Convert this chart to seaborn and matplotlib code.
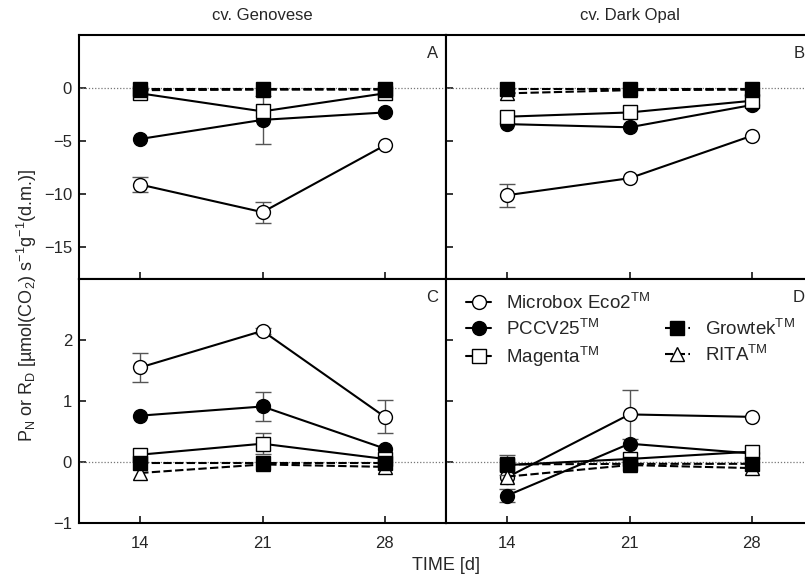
import numpy as np
import matplotlib
matplotlib.use('Agg')
import matplotlib.pyplot as plt
from matplotlib.lines import Line2D
import seaborn as sns

days = [14, 21, 28]

# A - cv. Genovese, P_N
microbox_A = [-9.1, -11.7, -5.4]
microbox_A_err = [0.7, 1.0, 0]
pccv_A = [-4.8, -3.0, -2.3]
pccv_A_err = [0, 2.25, 0]
magenta_A = [-0.5, -2.2, -0.5]
rita_A = [-0.2, -0.15, -0.15]
growtek_A = [-0.1, -0.1, -0.1]

# B - cv. Dark Opal, P_N
microbox_B = [-10.1, -8.5, -4.5]
microbox_B_err = [1.1, 0, 0]
pccv_B = [-3.4, -3.7, -1.6]
magenta_B = [-2.7, -2.3, -1.2]
rita_B = [-0.5, -0.2, -0.15]
growtek_B = [-0.1, -0.1, -0.1]

# C - cv. Genovese, R_D
microbox_C = [1.55, 2.15, 0.74]
microbox_C_err = [0.24, 0.05, 0.27]
pccv_C = [0.76, 0.91, 0.22]
pccv_C_err = [0, 0.24, 0]
magenta_C = [0.12, 0.30, 0.05]
magenta_C_err = [0, 0.17, 0]
rita_C = [-0.18, -0.04, -0.08]
growtek_C = [-0.02, -0.02, -0.02]

# D - cv. Dark Opal, R_D
microbox_D = [-0.25, 0.78, 0.74]
microbox_D_err = [0, 0.4, 0]
pccv_D = [-0.55, 0.30, 0.14]
pccv_D_err = [0.1, 0, 0]
magenta_D = [-0.05, 0.05, 0.17]
magenta_D_err = [0.17, 0, 0]
rita_D = [-0.24, -0.05, -0.1]
growtek_D = [-0.04, -0.03, -0.03]

titles = ['cv. Genovese', 'cv. Dark Opal']
letters = ['A', 'B', 'C', 'D']

sns.set_style('ticks')
plt.rcParams['font.family'] = ['Liberation Sans', 'DejaVu Sans']
plt.rcParams['mathtext.fontset'] = 'custom'
plt.rcParams['mathtext.rm'] = 'Liberation Sans'
plt.rcParams['mathtext.it'] = 'Liberation Sans:italic'
plt.rcParams['mathtext.bf'] = 'Liberation Sans:bold'

dash = (0, (4, 1.6))
styles = {
    'Microbox Eco2': dict(marker='o', mfc='white', ls='-'),
    'PCCV25': dict(marker='o', mfc='black', ls='-'),
    'Magenta': dict(marker='s', mfc='white', ls='-'),
    'RITA': dict(marker='^', mfc='white', ls=dash),
    'Growtek': dict(marker='s', mfc='black', ls=dash),
}


def draw(ax, vals, errs):
    ax.axhline(0, color='#777777', lw=0.9, ls=(0, (1, 1.5)), zorder=1)
    handles = {}
    for i, name in enumerate(['Microbox Eco2', 'PCCV25', 'Magenta', 'RITA', 'Growtek']):
        y = np.array(vals[name])
        if name in errs:
            e = np.array(errs[name])
            m = e > 0
            ax.errorbar(np.array(days)[m], y[m], yerr=e[m], fmt='none', ecolor='#555555',
                        elinewidth=1, capsize=5.5, capthick=1, zorder=2 + 2 * i)
        st = styles[name]
        sns.lineplot(x=days, y=y, ax=ax, color='black', lw=1.5, errorbar=None,
                     marker=st['marker'], markersize=10, mfc=st['mfc'], mec='black', mew=1,
                     linestyle=st['ls'], zorder=3 + 2 * i)
        handles[name] = ax.lines[-1]
    return handles


fig = plt.figure(figsize=(8.05, 5.77), dpi=100)
W, H = 805, 577
axA = fig.add_axes([79 / W, 1 - 279 / H, 367 / W, 244 / H])
axB = fig.add_axes([446 / W, 1 - 279 / H, 367 / W, 244 / H])
axC = fig.add_axes([79 / W, 1 - 523 / H, 367 / W, 244 / H])
axD = fig.add_axes([446 / W, 1 - 523 / H, 367 / W, 244 / H])

draw(axA, {'Microbox Eco2': microbox_A, 'PCCV25': pccv_A, 'Magenta': magenta_A,
           'RITA': rita_A, 'Growtek': growtek_A},
     {'Microbox Eco2': microbox_A_err, 'PCCV25': pccv_A_err})
draw(axB, {'Microbox Eco2': microbox_B, 'PCCV25': pccv_B, 'Magenta': magenta_B,
           'RITA': rita_B, 'Growtek': growtek_B},
     {'Microbox Eco2': microbox_B_err})
draw(axC, {'Microbox Eco2': microbox_C, 'PCCV25': pccv_C, 'Magenta': magenta_C,
           'RITA': rita_C, 'Growtek': growtek_C},
     {'Microbox Eco2': microbox_C_err, 'PCCV25': pccv_C_err, 'Magenta': magenta_C_err})
hd = draw(axD, {'Microbox Eco2': microbox_D, 'PCCV25': pccv_D, 'Magenta': magenta_D,
                'RITA': rita_D, 'Growtek': growtek_D},
          {'Microbox Eco2': microbox_D_err, 'PCCV25': pccv_D_err, 'Magenta': magenta_D_err})

for i, ax in enumerate([axA, axB, axC, axD]):
    ax.set_xlim(10.5, 31.5)
    ax.set_xticks(days)
    if i < 2:
        ax.set_ylim(-18, 5)
        ax.set_yticks([-15, -10, -5, 0])
        ax.set_title(titles[i], fontsize=12, pad=11)
    else:
        ax.set_ylim(-1, 3)
        ax.set_yticks([-1, 0, 1, 2])
    for s in ax.spines.values():
        s.set_linewidth(1.5)
        s.set_color('black')
    ax.tick_params(direction='in', length=5, width=1.3, labelsize=12, pad=5,
                   labelbottom=(i >= 2), labelleft=(i % 2 == 0),
                   top=False, right=False)
    ax.tick_params(axis='x', pad=9)
    ax.set_xlabel('')
    ax.set_ylabel('')
    ax.annotate(letters[i], xy=(1, 1), xycoords='axes fraction', xytext=(-6, -8),
                textcoords='offset points', ha='right', va='top', fontsize=12)

blank = Line2D([], [], linestyle='none')
leg_handles = [hd['Microbox Eco2'], hd['PCCV25'], hd['Magenta'], blank, hd['Growtek'], hd['RITA']]
leg_labels = [r'Microbox Eco2$^{\mathrm{TM}}$', r'PCCV25$^{\mathrm{TM}}$', r'Magenta$^{\mathrm{TM}}$',
              '', r'Growtek$^{\mathrm{TM}}$', r'RITA$^{\mathrm{TM}}$']
axD.legend(leg_handles, leg_labels, ncol=2, loc='upper left', bbox_to_anchor=(0.055, 0.945),
           frameon=False, fontsize=13.5, handlelength=1.35, handletextpad=0.8,
           columnspacing=0.75, labelspacing=0.32, borderpad=0, borderaxespad=0)

fig.text(446 / W, 1 - 565 / H, 'TIME [d]', ha='center', va='center', fontsize=13)
fig.text(27 / W, 1 - 305 / H,
         r'P$_\mathrm{N}$ or R$_\mathrm{D}$ [µmol(CO$_2$) s$^{-1}$g$^{-1}$(d.m.)]',
         rotation=90, ha='center', va='center', fontsize=13)

fig.savefig('out.png', dpi=100)
